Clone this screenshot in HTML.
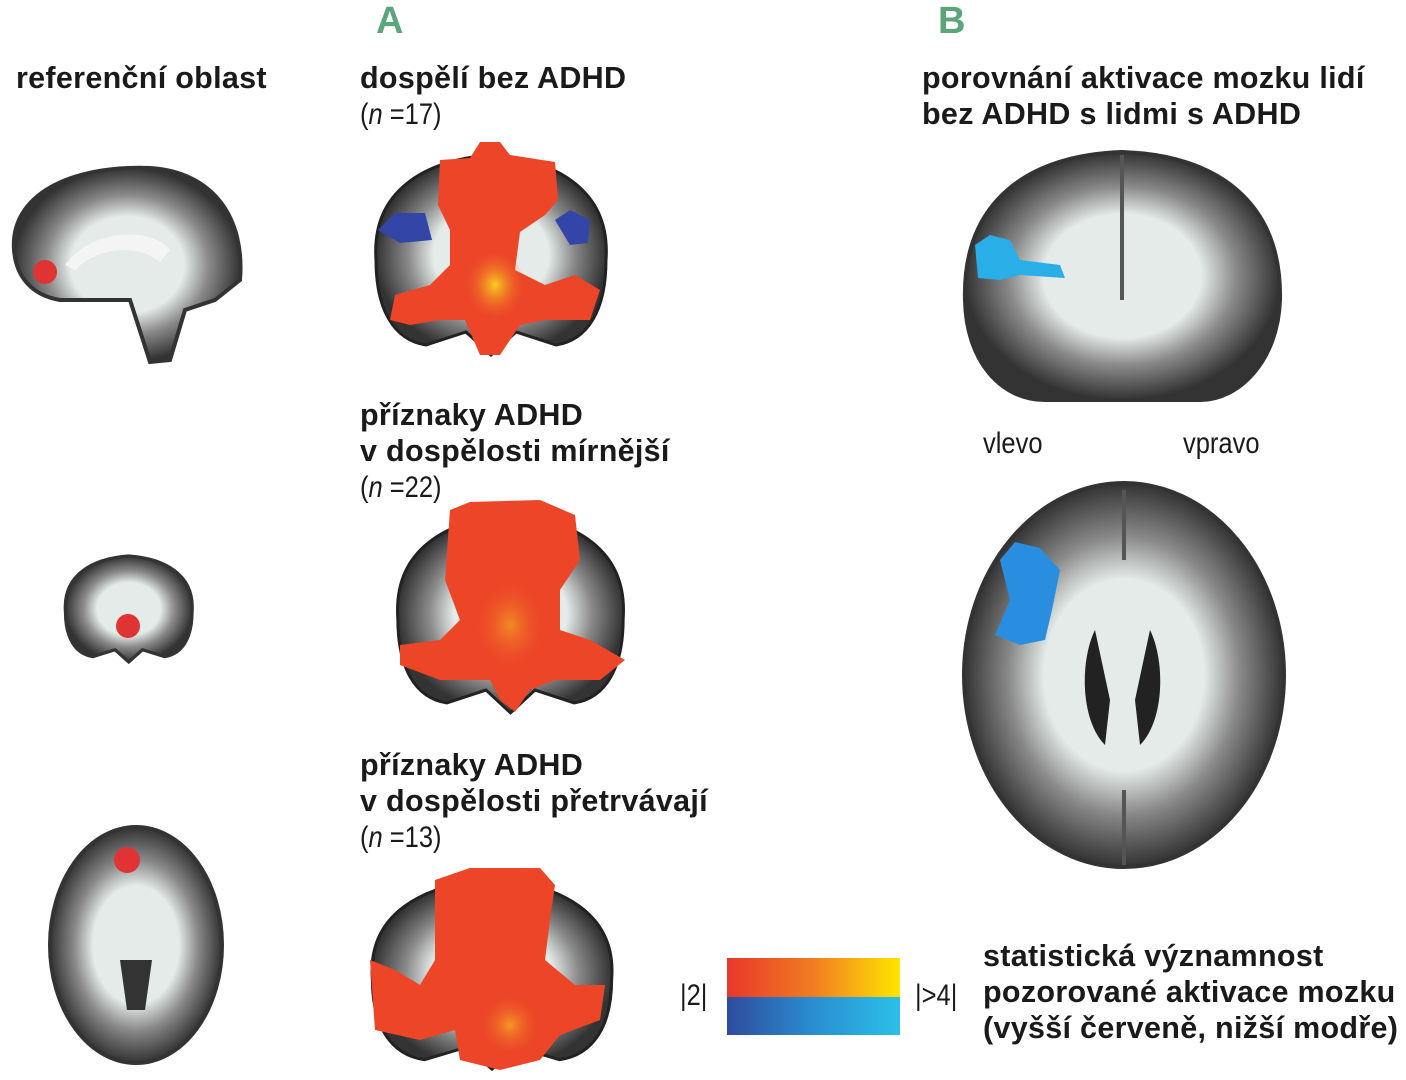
<!DOCTYPE html>
<html><head><meta charset="utf-8"><style>
body{margin:0;background:#fff;width:1406px;height:1080px;overflow:hidden;position:relative;font-family:"Liberation Sans",sans-serif;}
.t{position:absolute;font-size:30.5px;font-weight:bold;color:#1a1a1a;line-height:36px;white-space:nowrap;letter-spacing:0.3px}
.n{position:absolute;font-size:30px;color:#1a1a1a;line-height:36px;transform:scaleX(0.85);transform-origin:left;white-space:nowrap}
.L{position:absolute;font-size:38px;font-weight:bold;color:#5aa67a}
svg{position:absolute;left:0;top:0}
</style></head><body>
<svg width="1406" height="1080">
<defs>
<path id="cor" d="M 10 120 C 5 50 60 20 125 15 C 190 20 245 50 240 120 C 240 170 222 200 190 205 L 150 192 L 125 215 L 100 192 L 60 205 C 28 200 10 170 10 120 Z"/>
<radialGradient id="gw" cx="50%" cy="50%" r="50%"><stop offset="0.5" stop-color="#e4ebe8"/><stop offset="0.72" stop-color="#8a8a8a"/><stop offset="1" stop-color="#333"/></radialGradient>
<linearGradient id="rg" x1="0" x2="1"><stop offset="0" stop-color="#e8372a"/><stop offset="0.5" stop-color="#f07d22"/><stop offset="1" stop-color="#ffe600"/></linearGradient>
<linearGradient id="bg" x1="0" x2="1"><stop offset="0" stop-color="#2f4b9d"/><stop offset="0.5" stop-color="#2a8ed0"/><stop offset="1" stop-color="#2bc0ea"/></linearGradient>
<radialGradient id="hot" cx="50%" cy="50%" r="50%"><stop offset="0" stop-color="#f8d020"/><stop offset="1" stop-color="#ee5a28" stop-opacity="0"/></radialGradient>
</defs>
<path d="M14 250 C10 195 70 165 150 168 C215 172 245 220 240 280 L215 300 L185 310 L170 360 L150 362 L130 300 L60 300 C30 295 16 275 14 250Z" fill="url(#gw)" stroke="#333" stroke-width="4"/>
<path d="M65 265 C90 230 150 225 170 250 L160 262 C140 245 100 245 75 270Z" fill="#f4f4f4"/>
<circle cx="45" cy="272" r="12" fill="#e03434"/>
<use href="#cor" transform="translate(60,548) scale(0.55,0.53)" fill="url(#gw)" stroke="#333" stroke-width="6"/>
<circle cx="128" cy="626" r="12" fill="#e03434"/>
<ellipse cx="136" cy="945" rx="86" ry="118" fill="url(#gw)" stroke="#333" stroke-width="4"/>
<path d="M120 960 L152 960 L145 1010 L127 1010Z" fill="#333"/>
<circle cx="127" cy="860" r="13" fill="#e03434"/>
<use href="#cor" transform="translate(366,140)" fill="url(#gw)" stroke="#222" stroke-width="3"/>
<path d="M440 160 L470 158 L480 142 L500 142 L510 155 L555 162 L558 200 L545 215 L520 232 L515 270 L545 285 L575 275 L600 290 L590 320 L545 320 L520 325 L500 355 L480 355 L465 320 L440 320 L410 325 L390 320 L395 295 L430 285 L450 265 L450 230 L438 205Z" fill="#ec4528"/>
<ellipse cx="495" cy="285" rx="30" ry="35" fill="url(#hot)"/>
<path d="M378 230 L395 213 L425 213 L432 240 L400 243Z" fill="#3346a8"/>
<path d="M555 220 L570 210 L590 220 L588 243 L570 245Z" fill="#3346a8"/>
<use href="#cor" transform="translate(388,500) scale(0.98,0.99)" fill="url(#gw)" stroke="#222" stroke-width="3"/>
<path d="M450 510 L470 502 L540 500 L575 515 L580 560 L560 590 L560 630 L590 640 L625 660 L600 680 L555 680 L530 690 L515 712 L500 700 L490 680 L440 680 L400 665 L400 645 L440 640 L460 620 L445 580Z" fill="#ec4528"/>
<ellipse cx="510" cy="625" rx="35" ry="45" fill="url(#hot)" opacity="0.5"/>
<use href="#cor" transform="translate(362,865) scale(1.04,0.95)" fill="url(#gw)" stroke="#222" stroke-width="3"/>
<path d="M435 880 L470 868 L540 868 L555 885 L550 920 L545 960 L575 985 L605 985 L600 1020 L560 1035 L540 1060 L500 1070 L460 1060 L455 1030 L420 1040 L375 1030 L370 960 L395 970 L420 985 L435 960Z" fill="#ec4528"/>
<ellipse cx="510" cy="1025" rx="30" ry="30" fill="url(#hot)" opacity="0.6"/>
<path d="M965 300 C962 200 1030 155 1122 152 C1215 155 1282 200 1280 300 C1278 360 1240 400 1200 400 L1045 400 C1000 400 966 360 965 300Z" fill="url(#gw)" stroke="#333" stroke-width="4"/>
<line x1="1122" y1="155" x2="1122" y2="300" stroke="#555" stroke-width="4"/>
<path d="M975 245 L990 235 L1010 240 L1020 260 L1060 265 L1065 278 L1020 275 L1000 280 L978 278Z" fill="#29aee8"/>
<ellipse cx="1124" cy="675" rx="160" ry="192" fill="url(#gw)" stroke="#333" stroke-width="4"/>
<line x1="1124" y1="490" x2="1124" y2="560" stroke="#555" stroke-width="4"/>
<line x1="1124" y1="790" x2="1124" y2="865" stroke="#555" stroke-width="4"/>
<path d="M1095 630 C1080 660 1080 720 1105 745 L1110 700 Z" fill="#222"/>
<path d="M1150 630 C1165 660 1165 720 1140 745 L1135 700 Z" fill="#222"/>
<path d="M1000 560 L1015 542 L1040 548 L1060 570 L1052 610 L1045 640 L1020 645 L995 635 L1010 600Z" fill="#2a8ee0"/>
<rect x="727" y="958" width="173" height="39" fill="url(#rg)"/>
<rect x="727" y="997" width="173" height="38" fill="url(#bg)"/>
</svg>
<div class="L" style="left:376px;top:0px">A</div>
<div class="L" style="left:938px;top:0px">B</div>
<div class="t" style="left:16px;top:60px">referenční oblast</div>
<div class="t" style="left:360px;top:60px">dospělí bez ADHD</div>
<div class="n" style="left:360px;top:97px">(<i>n</i> =17)</div>
<div class="t" style="left:360px;top:397px">příznaky ADHD<br>v dospělosti mírnější</div>
<div class="n" style="left:360px;top:470px">(<i>n</i> =22)</div>
<div class="t" style="left:360px;top:747px">příznaky ADHD<br>v dospělosti přetrvávají</div>
<div class="n" style="left:360px;top:820px">(<i>n</i> =13)</div>
<div class="t" style="left:922px;top:60px">porovnání aktivace mozku lidí<br>bez ADHD s lidmi s ADHD</div>
<div class="n" style="left:983px;top:426px">vlevo</div>
<div class="n" style="left:1183px;top:426px">vpravo</div>
<div class="n" style="left:680px;top:978px">|2|</div>
<div class="n" style="left:915px;top:978px">|&gt;4|</div>
<div class="t" style="left:983px;top:938px">statistická významnost<br>pozorované aktivace mozku<br>(vyšší červeně, nižší modře)</div>
</body></html>
